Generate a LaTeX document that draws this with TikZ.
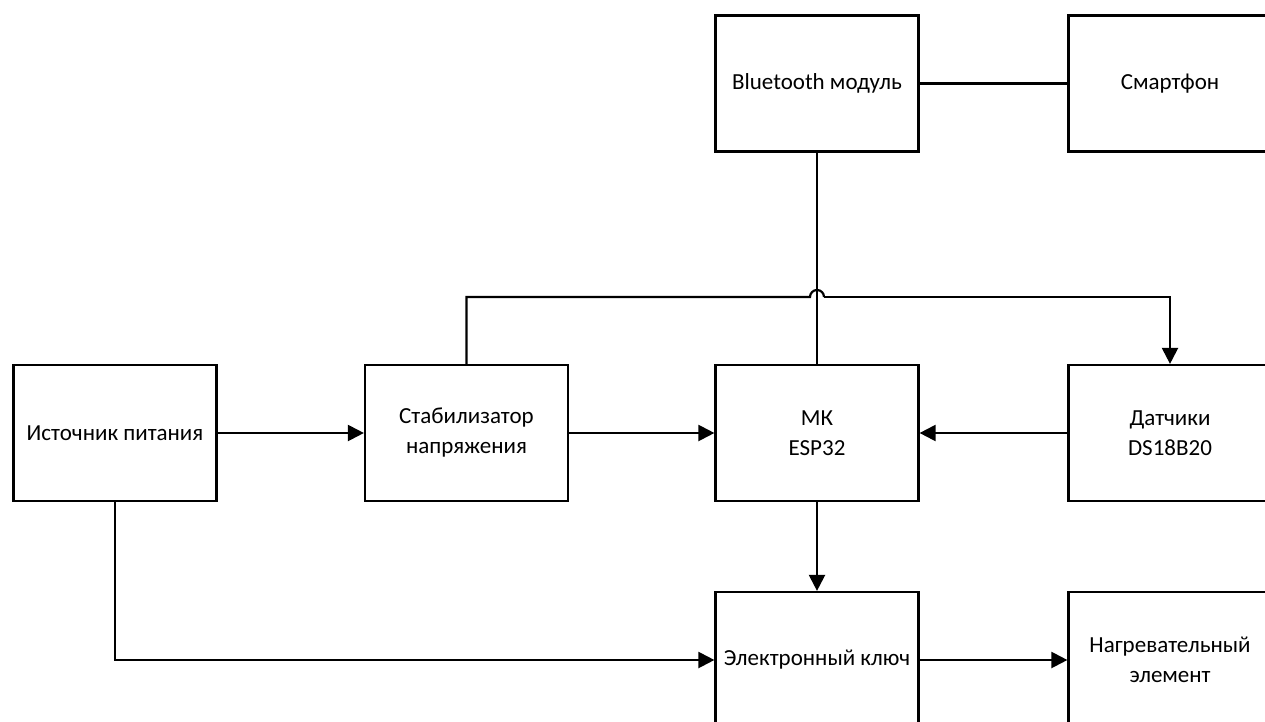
\documentclass[tikz,border=0pt]{standalone}
\usepackage{fontspec}
\setmainfont{Carlito}
\usetikzlibrary{arrows.meta}
\begin{document}
\begin{tikzpicture}[x=1pt,y=-1pt,
  blk/.style={draw=black, line width=2.2pt, minimum width=203pt, minimum height=136pt,
    align=center, inner sep=0pt, font=\fontsize{23}{30}\selectfont},
  con/.style={line width=2.2pt, draw=black},
  arr/.style={con, -{Triangle[length=16pt,width=16pt]}}]
\useasboundingbox (0,0) rectangle (1265,722);
\clip (0,0) rectangle (1265,722);
\node[blk] (bt) at (817,83.5) {Bluetooth модуль};
\node[blk] (sm) at (1170,83.5) {Смартфон};
\node[blk] (src) at (115,433) {Источник питания};
\node[blk] (stab) at (466.5,433) {Стабилизатор\\напряжения};
\node[blk] (mk) at (817,433) {МК\\ESP32};
\node[blk] (dat) at (1170,433) {Датчики\\DS18B20};
\node[blk] (key) at (817,660) {Электронный ключ};
\node[blk] (heat) at (1170,660) {Нагревательный\\элемент};
\coordinate (hopL) at (810,297);
\coordinate (hopR) at (824,297);
\draw[con] (bt.south) -- (mk.north);
\draw[con] (bt.east) -- (sm.west);
\draw[arr] (src.east) -- (stab.west);
\draw[arr] (stab.east) -- (mk.west);
\draw[arr] (dat.west) -- (mk.east);
\draw[arr] (mk.south) -- (key.north);
\draw[arr] (key.east) -- (heat.west);
\draw[arr] (src.south) |- (key.west);
\draw[con] (stab.north) |- (hopL) arc[start angle=180, end angle=0, radius=7pt];
\draw[arr] (hopR) -| (dat.north);
\end{tikzpicture}
\end{document}
